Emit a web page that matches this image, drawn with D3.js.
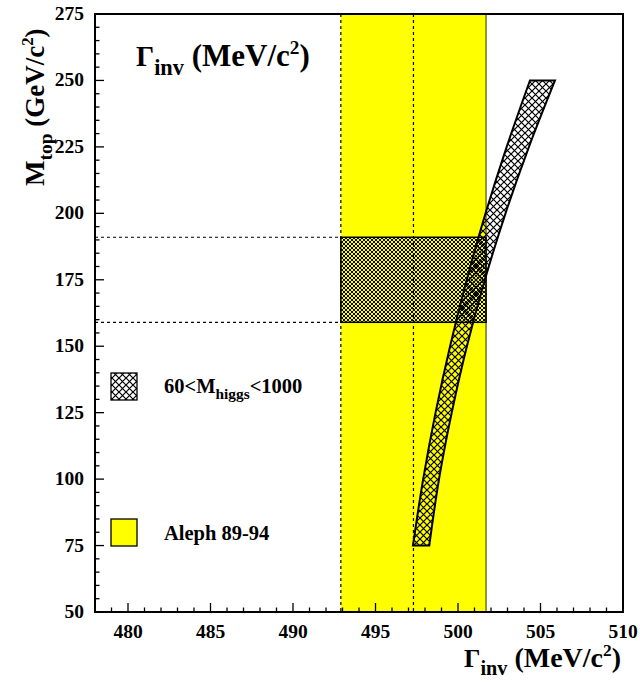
<!DOCTYPE html>
<html><head><meta charset="utf-8">
<script src="https://cdn.jsdelivr.net/npm/d3@7"></script>
<style>
html,body{margin:0;padding:0;background:#fff;}
svg{display:block;}
text{font-family:"Liberation Serif","Times New Roman",serif;font-weight:bold;fill:#000;}
</style></head>
<body>
<script>
// ---- data ----
const mtopValues = [75, 100, 125, 150, 175, 200, 225, 250];
const gammaLow  = [497.27, 497.89, 498.64, 499.52, 500.53, 501.67, 502.95, 504.36];
const gammaHigh = [498.26, 498.85, 499.62, 500.54, 501.63, 502.88, 504.30, 505.88];
const alephRange = [492.9, 501.7];
const alephCentral = [497.3];
const mtopRange = [159, 191];
const xTicks = [480, 485, 490, 495, 500, 505, 510];
const yTicks = [50, 75, 100, 125, 150, 175, 200, 225, 250, 275];
const legendLabels = ["60<M", "higgs", "<1000", "Aleph 89-94"];

const W = 640, H = 682;
const svg = d3.select("body").append("svg").attr("width", W).attr("height", H);
const x = d3.scaleLinear().domain([478, 510]).range([95, 623]);
const y = d3.scaleLinear().domain([50, 275]).range([612, 14]);

const defs = svg.append("defs");
function hatch(id, s, sw) {
  const p = defs.append("pattern").attr("id", id).attr("patternUnits", "userSpaceOnUse")
    .attr("width", s).attr("height", s);
  p.append("path").attr("d", `M-1,-1L${s+1},${s+1}M-1,${s+1}L${s+1},-1`)
    .attr("stroke", "#000").attr("stroke-width", sw).attr("fill", "none");
}
hatch("hatchBand", 7, 1.2);
hatch("hatchRect", 4, 1.0);

const x0 = x.range()[0], x1 = x.range()[1], y0 = y.range()[0], y1 = y.range()[1];

// Aleph band
svg.append("rect").attr("x", x(alephRange[0])).attr("y", y1)
  .attr("width", x(alephRange[1]) - x(alephRange[0])).attr("height", y0 - y1)
  .attr("fill", "#ffff00");
svg.append("line").attr("x1", x(alephRange[1])).attr("x2", x(alephRange[1]))
  .attr("y1", y1).attr("y2", y0).attr("stroke", "#4d4d00").attr("stroke-width", 1.2);
[alephRange[0], alephCentral[0]].forEach(v => {
  svg.append("line").attr("x1", x(v)).attr("x2", x(v)).attr("y1", y1).attr("y2", y0)
    .attr("stroke", "#000").attr("stroke-width", 1.2).attr("stroke-dasharray", "3,3");
});

// Mtop band
mtopRange.forEach(v => {
  svg.append("line").attr("x1", x0).attr("x2", x(alephRange[0])).attr("y1", y(v)).attr("y2", y(v))
    .attr("stroke", "#000").attr("stroke-width", 1.2).attr("stroke-dasharray", "3,3");
});
svg.append("rect").attr("x", x(alephRange[0])).attr("y", y(mtopRange[1]))
  .attr("width", x(alephRange[1]) - x(alephRange[0])).attr("height", y(mtopRange[0]) - y(mtopRange[1]))
  .attr("fill", "url(#hatchRect)").attr("stroke", "#000").attr("stroke-width", 1.5);

// SM prediction band
const bandData = mtopValues.map((m, i) => ({m, lo: gammaLow[i], hi: gammaHigh[i]}));
const area = d3.area().y(d => y(d.m)).x0(d => x(d.lo)).x1(d => x(d.hi)).curve(d3.curveMonotoneY);
svg.append("path").datum(bandData).attr("d", area)
  .attr("fill", "url(#hatchBand)").attr("stroke", "#000").attr("stroke-width", 2)
  .attr("stroke-linejoin", "miter");

// frame
svg.append("rect").attr("x", x0).attr("y", y1).attr("width", x1 - x0).attr("height", y0 - y1)
  .attr("fill", "none").attr("stroke", "#000").attr("stroke-width", 2);

// ticks
const g = svg.append("g").attr("stroke", "#000").attr("stroke-width", 1.3);
d3.range(478, 510.01, 1).forEach(v => {
  const major = v % 5 === 0;
  g.append("line").attr("x1", x(v)).attr("x2", x(v)).attr("y1", y0).attr("y2", y0 - (major ? 9 : 4.5));
});
d3.range(50, 275.01, 5).forEach(v => {
  const major = v % 25 === 0;
  g.append("line").attr("y1", y(v)).attr("y2", y(v)).attr("x1", x0).attr("x2", x0 + (major ? 9 : 4.5));
});
svg.append("g").selectAll("text").data(xTicks).join("text")
  .attr("x", d => x(d)).attr("y", 638).attr("text-anchor", "middle")
  .attr("font-size", 19.5).text(d => d);
svg.append("g").selectAll("text").data(yTicks).join("text")
  .attr("x", 84).attr("y", d => y(d) + 6).attr("text-anchor", "end")
  .attr("font-size", 19.5).text(d => d);

// titles
function gammaTitle(sel, fs) {
  sel.attr("font-size", fs);
  sel.append("tspan").attr("font-size", fs * 0.92).text("Γ");
  sel.append("tspan").attr("font-size", fs * 0.72).attr("dy", fs * 0.3).text("inv");
  sel.append("tspan").attr("dy", -fs * 0.3).text(" (MeV/c");
  sel.append("tspan").attr("font-size", fs * 0.62).attr("dy", -fs * 0.4).text("2");
  sel.append("tspan").attr("dy", fs * 0.4).text(")");
}
svg.append("text").attr("x", 136).attr("y", 66).call(gammaTitle, 31);
svg.append("text").attr("x", 621).attr("y", 667).attr("text-anchor", "end").call(gammaTitle, 28);

const yt = svg.append("text").attr("transform", "translate(44,186) rotate(-90)").attr("font-size", 27);
yt.append("tspan").text("M");
yt.append("tspan").attr("font-size", "0.72em").attr("dy", 8).text("top");
yt.append("tspan").attr("dy", -8).text(" (GeV/c");
yt.append("tspan").attr("font-size", "0.62em").attr("dy", -11).text("2");
yt.append("tspan").attr("dy", 11).text(")");

// legend
svg.append("rect").attr("x", 111).attr("y", 373).attr("width", 26).attr("height", 27)
  .attr("fill", "url(#hatchBand)").attr("stroke", "#000").attr("stroke-width", 1.3);
const lt = svg.append("text").attr("x", 164).attr("y", 393).attr("font-size", 20.5);
lt.append("tspan").text(legendLabels[0]);
lt.append("tspan").attr("font-size", "0.75em").attr("dy", 6).text(legendLabels[1]);
lt.append("tspan").attr("dy", -6).text(legendLabels[2]);
svg.append("rect").attr("x", 111).attr("y", 519).attr("width", 26).attr("height", 27)
  .attr("fill", "#ffff00").attr("stroke", "#000").attr("stroke-width", 1.3);
svg.append("text").attr("x", 164).attr("y", 540).attr("font-size", 20.5).text(legendLabels[3]);
</script>
</body></html>
